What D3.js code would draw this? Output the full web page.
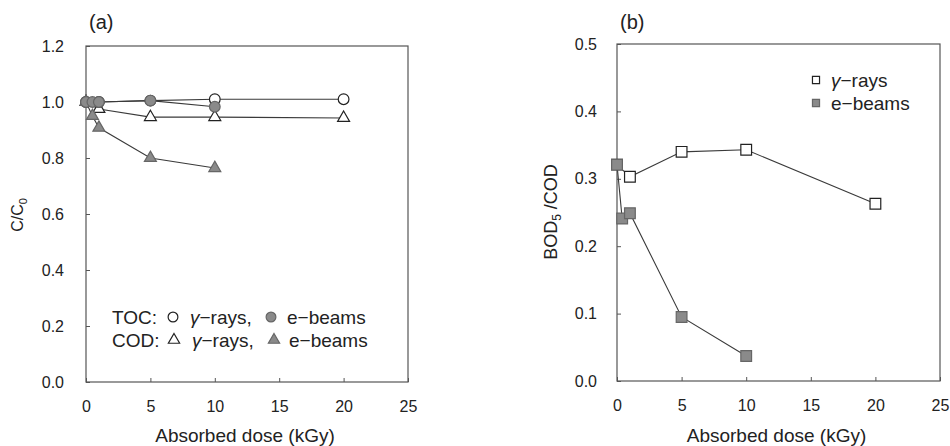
<!DOCTYPE html>
<html><head><meta charset="utf-8">
<script src="https://cdn.jsdelivr.net/npm/d3@7"></script>
<style>
body{margin:0;background:#fff;}
text{font-family:"Liberation Sans","DejaVu Sans",sans-serif;fill:#222;}
</style></head>
<body><svg id="c" width="950" height="446"></svg>
<script>
// Panel (a): C/C0
const tocGammaX = [0, 1, 5, 10, 20];
const tocGammaY = [1.0, 1.0, 1.005, 1.01, 1.01];
const tocEbeamX = [0, 0.5, 1, 5, 10];
const tocEbeamY = [1.0, 1.0, 1.0, 1.005, 0.983];
const codGammaX = [0, 1, 5, 10, 20];
const codGammaY = [1.0, 0.975, 0.946, 0.946, 0.943];
const codEbeamX = [0, 0.5, 1, 5, 10];
const codEbeamY = [1.0, 0.95, 0.908, 0.80, 0.764];
// Panel (b): BOD5/COD
const bodGammaX = [0, 1, 5, 10, 20];
const bodGammaY = [0.321, 0.303, 0.340, 0.343, 0.263];
const bodEbeamX = [0, 0.4, 1, 5, 10];
const bodEbeamY = [0.321, 0.241, 0.249, 0.095, 0.037];
const xTicks = [0, 5, 10, 15, 20, 25];
const yTicksA = [0, 0.2, 0.4, 0.6, 0.8, 1.0, 1.2];
const yTicksB = [0, 0.1, 0.2, 0.3, 0.4, 0.5];

const svg = d3.select("#c");
const lineCol = "#3a3a3a", fillCol = "#8a8a8a";

function panel(o){
  const g = svg.append("g");
  const x = d3.scaleLinear().domain([0,25]).range([o.left,o.right]);
  const y = d3.scaleLinear().domain([0,o.ymax]).range([o.bottom,o.top]);
  g.append("rect").attr("x",o.left).attr("y",o.top).attr("width",o.right-o.left).attr("height",o.bottom-o.top)
    .attr("fill","none").attr("stroke","#555").attr("stroke-width",1.2);
  const xa = g.append("g").attr("transform",`translate(0,${o.bottom})`)
    .call(d3.axisBottom(x).tickValues(xTicks).tickSize(-4).tickPadding(19).tickFormat(d3.format("d")));
  const ya = g.append("g").attr("transform",`translate(${o.left},0)`)
    .call(d3.axisLeft(y).tickValues(o.yTicks).tickSize(-4).tickPadding(o.pad).tickFormat(d3.format(".1f")));
  [xa,ya].forEach(a=>{a.select(".domain").remove();a.selectAll("line").attr("stroke","#555");
    a.selectAll("text").attr("font-size",16).attr("fill","#333").style("font-family","'Liberation Sans',sans-serif");});
  g.append("text").attr("x",(o.left+o.right)/2+(o.tx||0)).attr("y",442).attr("text-anchor","middle")
    .attr("font-size",19).text("Absorbed dose (kGy)");
  g.append("text").attr("x",o.left+3).attr("y",29).attr("font-size",20).text(o.tag);
  return {g,x,y};
}

const A = panel({left:86,right:408,top:46,bottom:382,ymax:1.2,yTicks:yTicksA,tag:"(a)",pad:22,tx:-2});
const B = panel({left:617,right:940,top:44,bottom:381,ymax:0.5,yTicks:yTicksB,tag:"(b)",pad:20,tx:-2});

// y labels
const la = svg.append("text").attr("transform","translate(23,215) rotate(-90)").attr("text-anchor","middle").attr("font-size",16);
la.append("tspan").text("C/C");
la.append("tspan").attr("font-size",11).attr("dy",4).text("0");
const lb = svg.append("text").attr("transform","translate(557,212) rotate(-90)").attr("text-anchor","middle").attr("font-size",18);
lb.append("tspan").text("BOD");
lb.append("tspan").attr("font-size",12).attr("dy",4).text("5");
lb.append("tspan").attr("dy",-4).text(" /COD");

function series(P, xs, ys, shape, filled){
  const pts = xs.map((v,i)=>[v,ys[i]]);
  P.g.append("path").datum(pts).attr("fill","none").attr("stroke",lineCol).attr("stroke-width",1.1)
    .attr("d",d3.line().x(d=>P.x(d[0])).y(d=>P.y(d[1])));
  const sym = shape==="circle"? d3.symbolCircle : shape==="triangle"? d3.symbolTriangle : d3.symbolSquare;
  const size = shape==="circle"? 90 : shape==="triangle"? 62 : 115;
  P.g.selectAll(null).data(pts).enter().append("path")
    .attr("transform",d=>`translate(${P.x(d[0])},${P.y(d[1])})`)
    .attr("d",d3.symbol().type(sym).size(size))
    .attr("fill",filled?fillCol:"#fff").attr("stroke",filled?"#666":"#222").attr("stroke-width",1.2);
}
series(A, codGammaX, codGammaY, "triangle", false);
series(A, tocGammaX, tocGammaY, "circle", false);
series(A, codEbeamX, codEbeamY, "triangle", true);
series(A, tocEbeamX, tocEbeamY, "circle", true);
series(B, bodGammaX, bodGammaY, "square", false);
series(B, bodEbeamX, bodEbeamY, "square", true);

// legend (a)
function legSym(x,y,sym,size,filled){
  svg.append("path").attr("transform",`translate(${x},${y})`).attr("d",d3.symbol().type(sym).size(size))
    .attr("fill",filled?fillCol:"#fff").attr("stroke",filled?"#666":"#222").attr("stroke-width",1.2);
}
const leg = [["TOC:",d3.symbolCircle,75,317,173,190,271,287],["COD:",d3.symbolTriangle,55,340,174,192,274,289]];
leg.forEach(([lab,sym,sz,yy,s1,t1,s2,t2])=>{
  svg.append("text").attr("x",112).attr("y",yy+7).attr("font-size",19).text(lab);
  legSym(s1,yy,sym,sz,false);
  svg.append("text").attr("x",t1).attr("y",yy+7).attr("font-size",19).html("<tspan font-style='italic'>γ</tspan>−rays,");
  legSym(s2,yy,sym,sz,true);
  svg.append("text").attr("x",t2).attr("y",yy+7).attr("font-size",19).text("e−beams");
});
// legend (b)
legSym(816,80,d3.symbolSquare,50,false);
svg.append("text").attr("x",831).attr("y",87).attr("font-size",19).html("<tspan font-style='italic'>γ</tspan>−rays");
legSym(816,103,d3.symbolSquare,50,true);
svg.append("text").attr("x",831).attr("y",110).attr("font-size",19).text("e−beams");
</script></body></html>
